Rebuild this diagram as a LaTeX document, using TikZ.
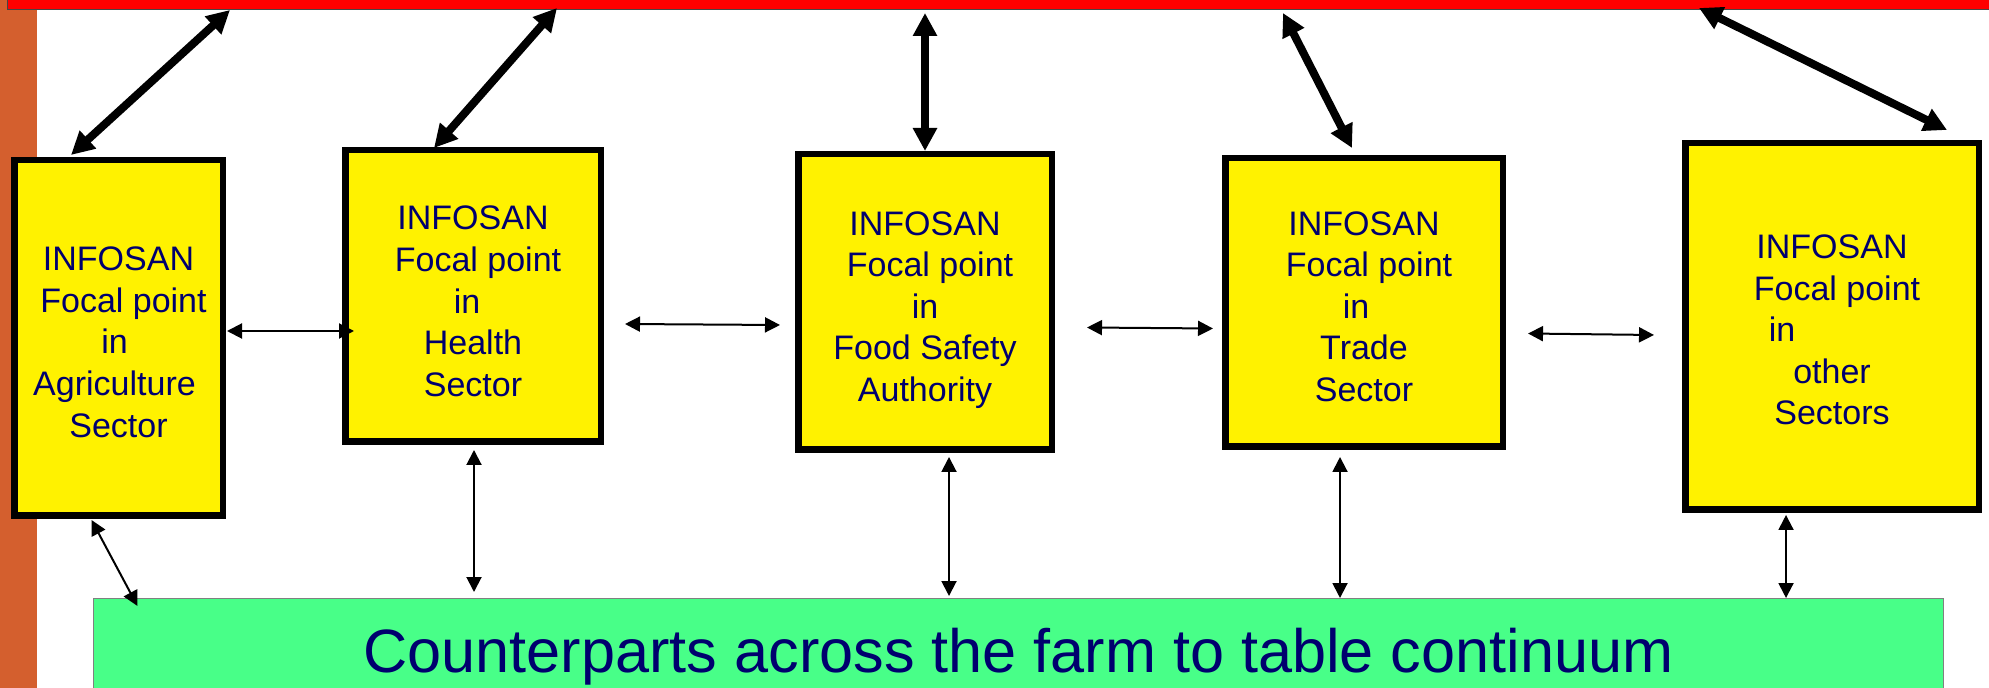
\documentclass[tikz,border=0pt]{standalone}
\usepackage{fontspec}
\setmainfont{Liberation Sans}
\usetikzlibrary{arrows.meta}
\definecolor{navytext}{RGB}{0,0,110}
\definecolor{rust}{RGB}{212,95,46}
\definecolor{mint}{RGB}{72,255,136}
\definecolor{barline}{RGB}{70,70,70}
\begin{document}
\begin{tikzpicture}[x=0.5pt,y=-0.5pt,
  fpbox/.style={draw=black, line width=3.25pt, fill=yellow, inner sep=0pt, align=center,
    font=\fontsize{17}{20.8}\selectfont, text=navytext},
  bigarrow/.style={line width=4pt, {Triangle[length=11.5pt,width=11.5pt]}-{Triangle[length=11.5pt,width=11.5pt]}},
  thinarrow/.style={line width=1pt, {Triangle[length=7.5pt,width=7.5pt]}-{Triangle[length=7.5pt,width=7.5pt]}}]
\useasboundingbox (0,0) rectangle (1989,688);
% left strip
\fill[rust] (0,0) rectangle (37,688);
% top red bar
\node[draw=barline, line width=0.75pt, fill=red, inner sep=0pt, minimum width=996.25pt, minimum height=14.75pt] (top) at (1003.75,-5.25) {};
% focal point boxes
\node[fpbox, minimum width=104.25pt, minimum height=177.75pt] (b1) at (118.5,338)
  {\rule{0pt}{16pt}INFOSAN\\\hspace*{5pt}Focal point\\\hspace*{-4pt}in\\\hspace*{-4pt}Agriculture\\Sector};
\node[fpbox, minimum width=127.75pt, minimum height=145.75pt] (b2) at (473,296)
  {\rule{0pt}{17.2pt}INFOSAN\\\hspace*{5pt}Focal point\\\hspace*{-6pt}in\\Health\\Sector};
\node[fpbox, minimum width=126.75pt, minimum height=147.75pt] (b3) at (925,302)
  {\rule{0pt}{19.8pt}INFOSAN\\\hspace*{5pt}Focal point\\in\\Food Safety\\Authority};
\node[fpbox, minimum width=138.75pt, minimum height=144.25pt] (b4) at (1364,302.5)
  {\rule{0pt}{16pt}INFOSAN\\\hspace*{5pt}Focal point\\\hspace*{-8pt}in\\Trade\\Sector};
\node[fpbox, minimum width=146.75pt, minimum height=183.25pt] (b5) at (1832,326.5)
  {\rule{0pt}{15.4pt}INFOSAN\\\hspace*{5pt}Focal point\\\hspace*{-50pt}in\\other\\Sectors};
% counterparts box
\node[draw=gray, line width=0.75pt, fill=mint, inner sep=0pt, minimum width=925pt, minimum height=58.5pt,
  font=\fontsize{30.6}{36}\selectfont, text=navytext] (cp) at (1018.5,657) {Counterparts across the farm to table continuum};
% connector end points
\coordinate (u1) at (71,155);   \coordinate (t1) at (230,10);
\coordinate (u2) at (434,148);  \coordinate (t2) at (557,8);
\coordinate (u3) at (925,151);  \coordinate (t3) at (925,13);
\coordinate (u4) at (1352,148); \coordinate (t4) at (1283,13);
\coordinate (u5) at (1947,130); \coordinate (t5) at (1699,8);
\draw[bigarrow] (u1) -- (t1);
\draw[bigarrow] (u2) -- (t2);
\draw[bigarrow] (u3) -- (t3);
\draw[bigarrow] (u4) -- (t4);
\draw[bigarrow] (u5) -- (t5);
% horizontal links
\coordinate (h1a) at (227,331);    \coordinate (h1b) at (354,331);
\coordinate (h2a) at (625,324);    \coordinate (h2b) at (780,325);
\coordinate (h3a) at (1087,327.5); \coordinate (h3b) at (1213,328.5);
\coordinate (h4a) at (1528,333.5); \coordinate (h4b) at (1654,335);
\draw[thinarrow] (h1a) -- (h1b);
\draw[thinarrow] (h2a) -- (h2b);
\draw[thinarrow] (h3a) -- (h3b);
\draw[thinarrow] (h4a) -- (h4b);
% vertical links to counterparts
\coordinate (d1a) at (91.5,520); \coordinate (d1b) at (137.5,606);
\coordinate (d2a) at (474,450);  \coordinate (d2b) at (474,592);
\coordinate (d3a) at (949,457);  \coordinate (d3b) at (949,596);
\coordinate (d4a) at (1340,457); \coordinate (d4b) at (1340,598);
\coordinate (d5a) at (1786,515); \coordinate (d5b) at (1786,598);
\draw[thinarrow] (d1a) -- (d1b);
\draw[thinarrow] (d2a) -- (d2b);
\draw[thinarrow] (d3a) -- (d3b);
\draw[thinarrow] (d4a) -- (d4b);
\draw[thinarrow] (d5a) -- (d5b);
\end{tikzpicture}
\end{document}
